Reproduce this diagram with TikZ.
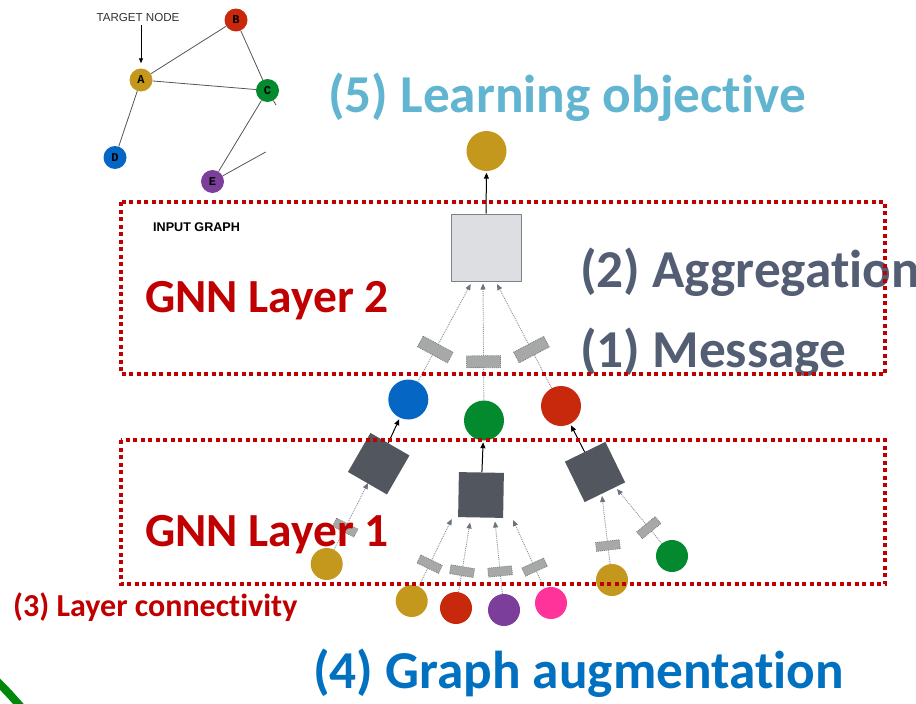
\documentclass[tikz,border=0pt]{standalone}
\usepackage{fontspec}
\setmainfont{Carlito}[Ligatures=NoCommon]
\newfontfamily\graphfont{Liberation Sans}
\newfontfamily\letterfont{Liberation Mono}
\usetikzlibrary{arrows.meta}

\definecolor{gold}{HTML}{C4981C}
\definecolor{nred}{HTML}{C8290D}
\definecolor{ngreen}{HTML}{03892E}
\definecolor{nblue}{HTML}{0566C4}
\definecolor{npurple}{HTML}{7B3F9B}
\definecolor{npink}{HTML}{FF3399}
\definecolor{edgegray}{HTML}{555555}
\definecolor{aggfill}{HTML}{DDDEE1}
\definecolor{aggedge}{HTML}{7F8288}
\definecolor{upd}{HTML}{52565E}
\definecolor{msgfill}{HTML}{A6A9A7}
\definecolor{msgedge}{HTML}{707472}
\definecolor{flowgray}{HTML}{8C8F94}
\definecolor{tipgray}{HTML}{6C737D}
\definecolor{gnnred}{HTML}{C00000}
\definecolor{objblue}{HTML}{62B5D0}
\definecolor{stepgray}{HTML}{535D73}
\definecolor{augblue}{HTML}{0070C0}
\definecolor{arcgreen}{HTML}{00880A}

\begin{document}
\begin{tikzpicture}[x=1pt,y=-1pt,
	vertex/.style={circle,inner sep=0pt,minimum size=23pt,fill=#1,font=\letterfont\bfseries\fontsize{12}{12}\selectfont},
	gedge/.style={draw=edgegray,line width=0.8pt},
	emb/.style={circle,inner sep=0pt,minimum size=40pt,fill=#1},
	leaf/.style={circle,inner sep=0pt,minimum size=32pt,fill=#1},
	aggbox/.style={draw=aggedge,fill=aggfill,line width=1pt,minimum width=70pt,minimum height=67pt,inner sep=0pt},
	updbox/.style={fill=upd,minimum size=45pt,inner sep=0pt},
	msgtwo/.style={sloped,pos=.33,fill=msgfill,draw=msgedge,line width=0.7pt,inner sep=0pt,minimum width=12pt,minimum height=34pt},
	msgone/.style={sloped,pos=.3,fill=msgfill,draw=msgedge,line width=0.6pt,inner sep=0pt,minimum width=9pt,minimum height=24pt},
	flow/.style={draw=flowgray,densely dotted,line width=0.9pt,-{Triangle[length=6pt,width=5pt,color=tipgray]}},
	push/.style={draw=black,line width=1pt,shorten >=1.5pt,-{Triangle[length=6pt,width=5pt]}},
	bigtext/.style={inner sep=0pt,anchor=base west,font=\bfseries\fontsize{53.3}{53}\selectfont},
	layerbox/.style={draw=gnnred,line width=4.5pt,dash pattern=on 4pt off 3.5pt}]
	\path[use as bounding box,fill=white] (0,0) rectangle (916,704);
	\clip (0,0) rectangle (916,704);
	\node[vertex=gold] (A) at (141,80) {A};
	\node[vertex=nred] (B) at (236,20) {B};
	\node[vertex=ngreen] (C) at (267.5,90.5) {C};
	\node[vertex=nblue] (D) at (115,157.5) {D};
	\node[vertex=npurple] (E) at (212.5,181.5) {E};
	\coordinate (Eout) at (265.7,152);
	\coordinate (Cout) at (276,105);
	\draw[gedge] (A) -- (B) (A) -- (C) (B) -- (C) (A) -- (D) (C) -- (E) (E) -- (Eout) (C) -- (Cout);
	\node[anchor=base,inner sep=2pt,text=black!80,font=\graphfont\fontsize{11.6}{12}\selectfont] (target) at (138,21) {TARGET NODE};
	\draw[line width=0.8pt,shorten <=2pt,shorten >=5pt,-{Triangle[length=5pt,width=4pt]}] (target.south -| A.north) -- (A.north);
	\node[inner sep=0pt,anchor=base west,font=\graphfont\bfseries\fontsize{12.6}{13}\selectfont] (input) at (153,231.5) {INPUT GRAPH};
	\node[emb=gold] (out) at (486.5,151) {};
	\node[aggbox] (agg) at (486,247.5) {};
	\node[emb=nblue] (hD) at (408.3,399.5) {};
	\node[emb=ngreen] (hC) at (484,420.5) {};
	\node[emb=nred] (hB) at (561,406) {};
	\node[updbox,rotate=-30] (uD) at (378.7,463.7) {};
	\node[updbox,rotate=-1] (uC) at (481,495) {};
	\node[updbox,rotate=26] (uB) at (595,472) {};
	\node[leaf=gold] (dA) at (326.7,564) {};
	\node[leaf=gold] (cA) at (411.7,601) {};
	\node[leaf=nred] (cB) at (456,608) {};
	\node[leaf=npurple] (cE) at (504,610) {};
	\node[leaf=npink] (cF) at (551,603) {};
	\node[leaf=gold] (bA) at (612,580) {};
	\node[leaf=ngreen] (bC) at (672,556) {};
	\coordinate (aggD) at (470.7,284);
	\coordinate (aggC) at (483,283.5);
	\coordinate (aggB) at (497,284);
	\coordinate (uDin) at (368,483);
	\coordinate (uCin1) at (451.7,519);
	\coordinate (uCin2) at (470,522.5);
	\coordinate (uCin3) at (495,521.5);
	\coordinate (uCin4) at (513,520);
	\coordinate (uBin1) at (602,496);
	\coordinate (uBin2) at (617,489);
	\draw[flow] (hD) -- node[msgtwo] (mD) {} (aggD);
	\draw[flow] (hC) -- node[msgtwo] (mC) {} (aggC);
	\draw[flow] (hB) -- node[msgtwo,pos=.37] (mB) {} (aggB);
	\draw[flow] (dA) -- node[msgone,pos=.33] (mdA) {} (uDin);
	\draw[flow] (cA) -- node[msgone,pos=.33] (mcA) {} (uCin1);
	\draw[flow] (cB) -- node[msgone] (mcB) {} (uCin2);
	\draw[flow] (cE) -- node[msgone,pos=.31] (mcE) {} (uCin3);
	\draw[flow] (cF) -- node[msgone,pos=.31] (mcF) {} (uCin4);
	\draw[flow] (bA) -- node[msgone,pos=.27] (mbA) {} (uBin1);
	\draw[flow] (bC) -- node[msgone,pos=.29] (mbC) {} (uBin2);
	\draw[push] (agg.north) -- (out.south);
	\draw[push] (uD) -- (hD);
	\draw[push] (uC) -- (hC);
	\draw[push] (uB) -- (hB);
	\node[bigtext,text=objblue] (obj) at (328,112) {(5) Learning objective};
	\node[bigtext,text=stepgray] (aggtext) at (580,287) {(2) Aggregation};
	\node[bigtext,text=stepgray] (msgtext) at (580,367) {(1) Message};
	\node[bigtext,text=gnnred,font=\bfseries\fontsize{47.5}{47}\selectfont] (ltwo) at (145,312.5) {GNN Layer 2};
	\node[bigtext,text=gnnred,font=\bfseries\fontsize{47.5}{47}\selectfont] (lone) at (145,546) {GNN Layer 1};
	\node[bigtext,text=gnnred,font=\bfseries\fontsize{32}{32}\selectfont] (conn) at (13,616.5) {(3) Layer connectivity};
	\node[bigtext,text=augblue] (aug) at (313,688) {(4) Graph augmentation};
	\draw[arcgreen,line width=8pt] (-10,674.5) .. controls (6,690) .. (25,711.5);
	\draw[layerbox] (121,202) rectangle (885,374);
	\draw[layerbox] (121,440) rectangle (885,584);
\end{tikzpicture}
\end{document}
